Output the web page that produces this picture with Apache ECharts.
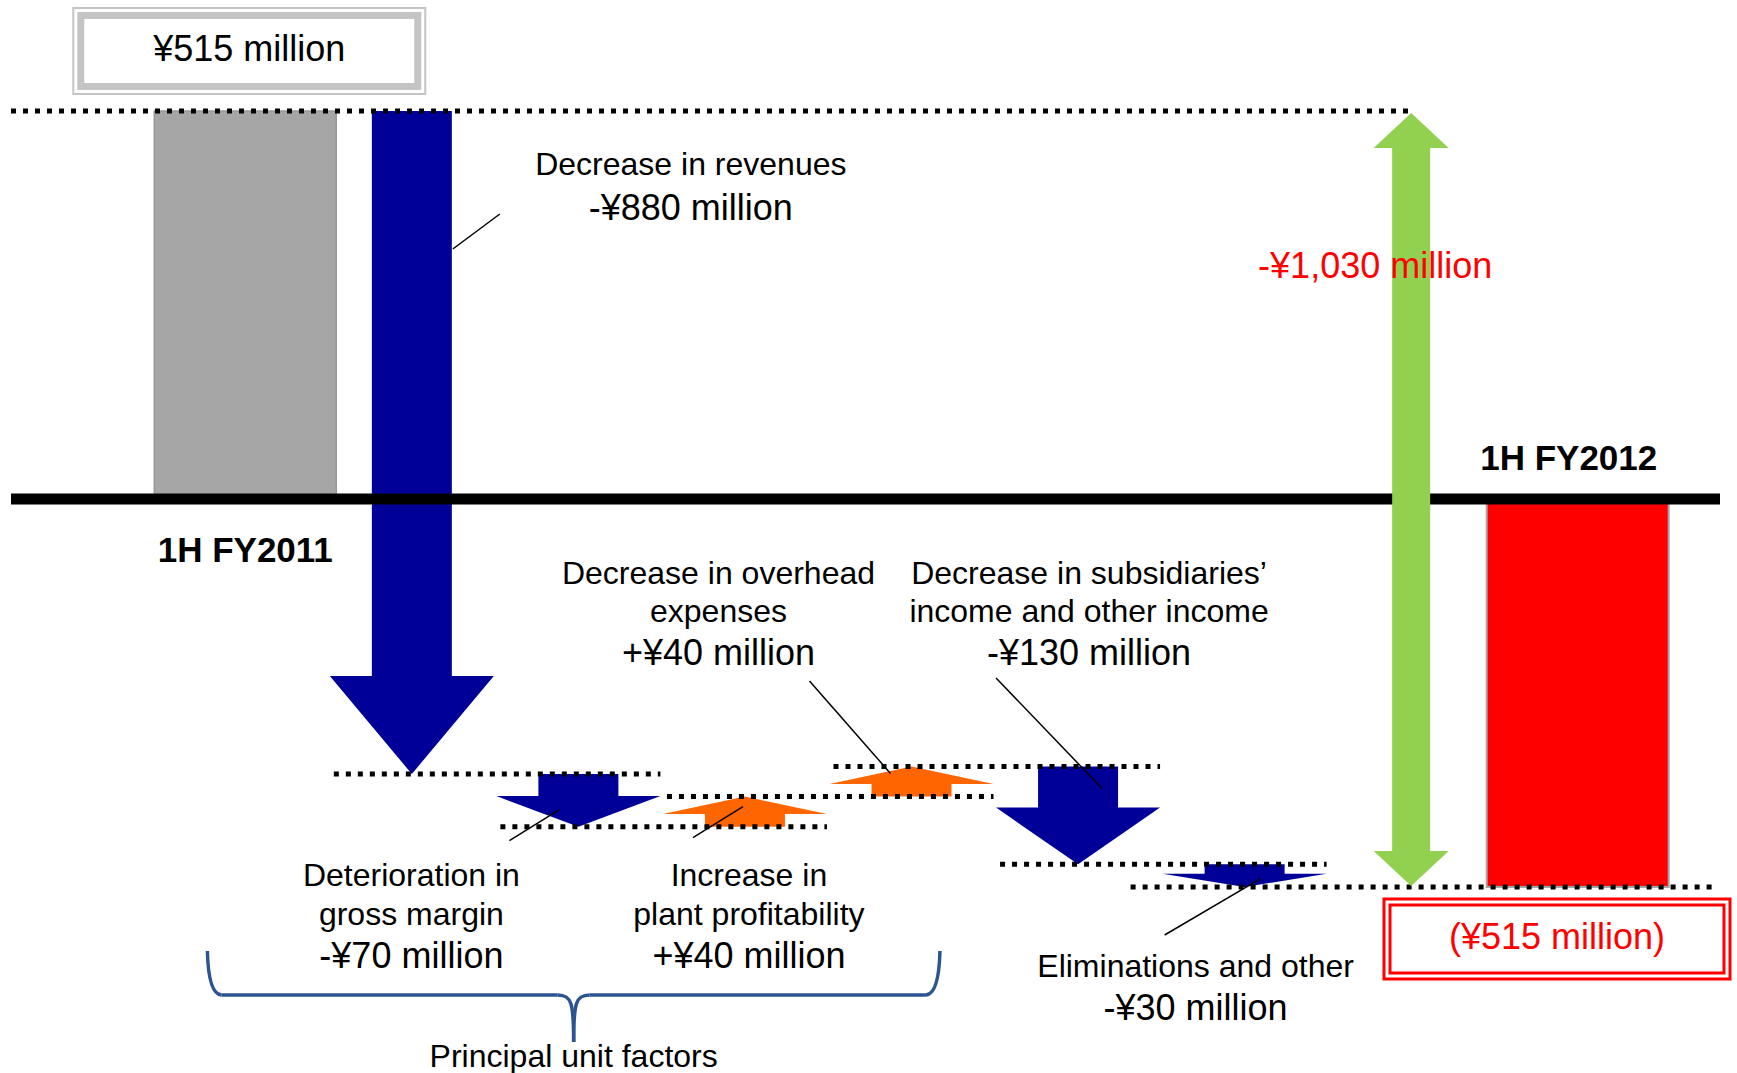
<!DOCTYPE html>
<html>
<head>
<meta charset="utf-8">
<script src="https://cdn.jsdelivr.net/npm/echarts/dist/echarts.min.js"></script>
<style>
html,body{margin:0;padding:0;background:#fff;}
#chart{width:1737px;height:1073px;}
</style>
</head>
<body>
<div id="chart"></div>
<script>
// ---------------- DATA (¥ million) ----------------
const categories = [
  '1H FY2011',
  'Decrease in revenues',
  'Deterioration in gross margin',
  'Increase in plant profitability',
  'Decrease in overhead expenses',
  'Decrease in subsidiaries’ income and other income',
  'Eliminations and other',
  'Total change',
  '1H FY2012'
];
const openingProfit = 515;                       // 1H FY2011
const factorChanges = [-880, -70, 40, 40, -130, -30];
const closingProfit = -515;                      // 1H FY2012
const totalChange = -1030;

// ---------------- TEXT ----------------
const periodLabels = ['1H FY2011', '1H FY2012'];
const openingLabel = '¥515 million';
const closingLabel = '(¥515 million)';
const totalChangeLabel = '-¥1,030 million';
const factorTitles = [
  ['Decrease in revenues'],
  ['Deterioration in', 'gross margin'],
  ['Increase in', 'plant profitability'],
  ['Decrease in overhead', 'expenses'],
  ['Decrease in subsidiaries’', 'income and other income'],
  ['Eliminations and other']
];
const factorValueLabels = ['-¥880 million', '-¥70 million', '+¥40 million', '+¥40 million', '-¥130 million', '-¥30 million'];
const groupLabel = 'Principal unit factors';

// ---------------- STYLE / LAYOUT ----------------
const FONT = '"Liberation Sans", Arial, Helvetica, sans-serif';
const BLUE = '#000099', ORANGE = '#ff6600', GREEN = '#92d050', RED = '#ff0000', GRAY = '#a6a6a6';
const BRACE = '#2b5591';
const factorLayout = [
  { dx: 279,  ys: [164, 207],      leader: (cx, a, b) => [cx + 41, 249, cx + 88, 214] },
  { dx: -167, ys: [875, 914, 955], leader: (cx, a, b) => [cx - 69, b + 14, cx - 19, b - 17] },
  { dx: 4,    ys: [875, 914, 955], leader: (cx, a, b) => [cx - 52, a + 11, cx - 2, a - 20] },
  { dx: -193, ys: [573, 611, 652], leader: (cx, a, b) => [cx - 102, 681, cx - 21, b + 7] },
  { dx: 11,   ys: [573, 611, 652], leader: (cx, a, b) => [cx - 82, 678, cx + 24, a + 22] },
  { dx: -49,  ys: [966, 1007],     leader: (cx, a, b) => [cx - 80, 935, cx + 16, (a + b) / 2 + 3] }
];

// cumulative levels after each factor
const levels = [openingProfit];
factorChanges.forEach(c => levels.push(levels[levels.length - 1] + c));

function txt(str, x, y, size, extra) {
  return { type: 'text', z2: 60, style: Object.assign({
    text: str, x: x, y: y, fill: '#000', fontSize: size, fontFamily: FONT,
    align: 'center', verticalAlign: 'middle' }, extra || {}) };
}
function seg(x1, y1, x2, y2, stroke, lw, dash) {
  const s = { stroke: stroke || '#000', lineWidth: lw || 1.5 };
  if (dash) s.lineDash = dash;
  return { type: 'line', shape: { x1: x1, y1: y1, x2: x2, y2: y2 }, style: s };
}
function arrowPts(cx, y0, y1, shaftW, headW, headH) {
  const d = y1 > y0 ? 1 : -1;
  const hb = y1 - d * headH;
  return [[cx - shaftW / 2, y0], [cx + shaftW / 2, y0], [cx + shaftW / 2, hb], [cx + headW / 2, hb],
          [cx, y1], [cx - headW / 2, hb], [cx - shaftW / 2, hb]];
}
function doubleArrowPts(cx, yTop, yBot, shaftW, headW, headH) {
  return [[cx, yTop], [cx + headW / 2, yTop + headH], [cx + shaftW / 2, yTop + headH],
          [cx + shaftW / 2, yBot - headH], [cx + headW / 2, yBot - headH], [cx, yBot],
          [cx - headW / 2, yBot - headH], [cx - shaftW / 2, yBot - headH],
          [cx - shaftW / 2, yTop + headH], [cx - headW / 2, yTop + headH]];
}

const chart = echarts.init(document.getElementById('chart'), null, { renderer: 'svg', width: 1737, height: 1073 });

const option = {
  animation: false,
  backgroundColor: '#ffffff',
  grid: { left: 162, right: 76, top: 47, bottom: 122 },
  xAxis: { type: 'category', data: categories, show: false },
  yAxis: { type: 'value', min: -600, max: 600, show: false, splitLine: { show: false } },
  series: [
    // opening & closing bars with their boxes and period labels
    {
      type: 'custom', z: 1, encode: { x: 0, y: [1, 2] },
      data: [[0, openingProfit, 0], [categories.length - 1, 0, closingProfit]],
      renderItem: function (params, api) {
        const i = api.value(0);
        const p1 = api.coord([i, api.value(1)]);
        const p2 = api.coord([i, api.value(2)]);
        const y0 = api.coord([i, 0])[1];
        const cx = p1[0], w = 182;
        const top = Math.min(p1[1], p2[1]), h = Math.abs(p2[1] - p1[1]);
        const children = [];
        if (i === 0) {
          children.push({ type: 'rect', shape: { x: cx - w / 2, y: top, width: w, height: h },
            style: { fill: GRAY, stroke: '#999999', lineWidth: 1.5 } });
          const bx = cx + 4, by = p1[1] - 103;
          children.push({ type: 'rect', shape: { x: bx - 176, y: by, width: 352, height: 86 },
            style: { fill: '#fff', stroke: '#c4c4c4', lineWidth: 2 } });
          children.push({ type: 'rect', shape: { x: bx - 168.5, y: by + 7.5, width: 337, height: 71 },
            style: { fill: 'none', stroke: '#c4c4c4', lineWidth: 7 } });
          children.push(txt(openingLabel, bx, by + 40, 36));
          children.push(txt(periodLabels[0], cx, y0 + 50, 35, { fontWeight: 'bold' }));
        } else {
          children.push({ type: 'rect', shape: { x: cx - w / 2, y: top + 4, width: w, height: h - 4 },
            style: { fill: RED, stroke: '#a6a6a6', lineWidth: 2 } });
          const rcx = Math.min(cx - 12, api.getWidth() - 7 - 173), ry = p2[1] + 12;
          children.push({ type: 'rect', shape: { x: rcx - 173, y: ry, width: 346, height: 80 },
            style: { fill: '#fff', stroke: RED, lineWidth: 3 } });
          children.push({ type: 'rect', shape: { x: rcx - 167, y: ry + 6, width: 334, height: 68 },
            style: { fill: 'none', stroke: RED, lineWidth: 3 } });
          children.push(txt(closingLabel, rcx, ry + 38, 36, { fill: RED }));
          children.push(txt(periodLabels[1], cx - 9, y0 - 42, 35, { fontWeight: 'bold' }));
        }
        return { type: 'group', children: children };
      }
    },
    // factor arrows with their labels
    {
      type: 'custom', z: 2, encode: { x: 0, y: [1, 2] },
      data: factorChanges.map((c, k) => [k + 1, levels[k], levels[k + 1], c]),
      renderItem: function (params, api) {
        const i = api.value(0);
        const a = api.coord([i, api.value(1)]);
        const b = api.coord([i, api.value(2)]);
        const cx = a[0];
        const up = api.value(3) > 0;
        const len = Math.abs(b[1] - a[1]);
        const headH = Math.min(98, len * 0.58);
        const children = [{ type: 'polygon', shape: { points: arrowPts(cx, a[1], b[1], 80, 164, headH) },
          style: { fill: up ? ORANGE : BLUE } }];
        const L = factorLayout[i - 1];
        const titles = factorTitles[i - 1];
        const lx = cx + L.dx;
        titles.forEach((t, j) => children.push(txt(t, lx, L.ys[j], 32)));
        children.push(txt(factorValueLabels[i - 1], lx, L.ys[titles.length], 36));
        const ld = L.leader(cx, a[1], b[1]);
        children.push(seg(ld[0], ld[1], ld[2], ld[3], '#000', 1.5));
        return { type: 'group', children: children };
      }
    },
    // dotted level connectors
    {
      type: 'custom', z: 3, encode: { x: 0, y: 1 },
      data: levels.map((v, k) => [k, v]),
      renderItem: function (params, api) {
        const k = api.value(0);
        const p = api.coord([k, api.value(1)]);
        let x1, x2;
        if (k === 0) { x1 = 11; x2 = api.coord([7, 0])[0] + 2; }
        else if (k === levels.length - 1) { x1 = p[0] - 114; x2 = api.getWidth() - 20; }
        else { x1 = p[0] - 78; x2 = api.coord([k + 1, 0])[0] + 82; }
        return seg(x1, p[1], x2, p[1], '#000', 5, [5, 7]);
      }
    },
    // zero line
    {
      type: 'custom', z: 4, encode: { x: 0, y: 1 },
      data: [[0, 0]],
      renderItem: function (params, api) {
        const y = api.coord([0, api.value(1)])[1];
        return seg(11, y, api.getWidth() - 17, y, '#000', 11);
      }
    },
    // total change double arrow
    {
      type: 'custom', z: 5, encode: { x: 0, y: [1, 2] },
      data: [[7, openingProfit, openingProfit + totalChange]],
      renderItem: function (params, api) {
        const i = api.value(0);
        const a = api.coord([i, api.value(1)]);
        const b = api.coord([i, api.value(2)]);
        const cx = a[0];
        return { type: 'group', children: [
          { type: 'polygon', shape: { points: doubleArrowPts(cx, a[1] + 2, b[1] - 1, 38, 75, 35) }, style: { fill: GREEN } },
          txt(totalChangeLabel, cx - 36, 265, 36, { fill: RED })
        ] };
      }
    },
    // brace grouping the principal unit factors
    {
      type: 'custom', z: 6, encode: { x: 0, y: 1 },
      data: [[2, 0]],
      renderItem: function (params, api) {
        const gx = api.coord([2, 0])[0] + factorLayout[1].dx;
        const px = api.coord([3, 0])[0] + factorLayout[2].dx;
        const left = gx - 204, right = px + 191, mid = (left + right) / 2;
        const yt = 951, yh = 995, yb = 1042;
        const st = { stroke: BRACE, lineWidth: 3.5, fill: 'none' };
        return { type: 'group', children: [
          { type: 'bezierCurve', shape: { x1: left, y1: yt, x2: left + 14, y2: yh, cpx1: left + 1, cpy1: yh - 1 }, style: st },
          { type: 'line', shape: { x1: left + 14, y1: yh, x2: mid - 16, y2: yh }, style: st },
          { type: 'bezierCurve', shape: { x1: mid - 16, y1: yh, x2: mid, y2: yb, cpx1: mid - 2, cpy1: yh, cpx2: mid, cpy2: yh + 8 }, style: st },
          { type: 'bezierCurve', shape: { x1: mid + 16, y1: yh, x2: mid, y2: yb, cpx1: mid + 2, cpy1: yh, cpx2: mid, cpy2: yh + 8 }, style: st },
          { type: 'line', shape: { x1: mid + 16, y1: yh, x2: right - 14, y2: yh }, style: st },
          { type: 'bezierCurve', shape: { x1: right - 14, y1: yh, x2: right, y2: yt, cpx1: right - 1, cpy1: yh - 1 }, style: st },
          txt(groupLabel, mid, 1056, 32)
        ] };
      }
    }
  ]
};
chart.setOption(option);
</script>
</body>
</html>
